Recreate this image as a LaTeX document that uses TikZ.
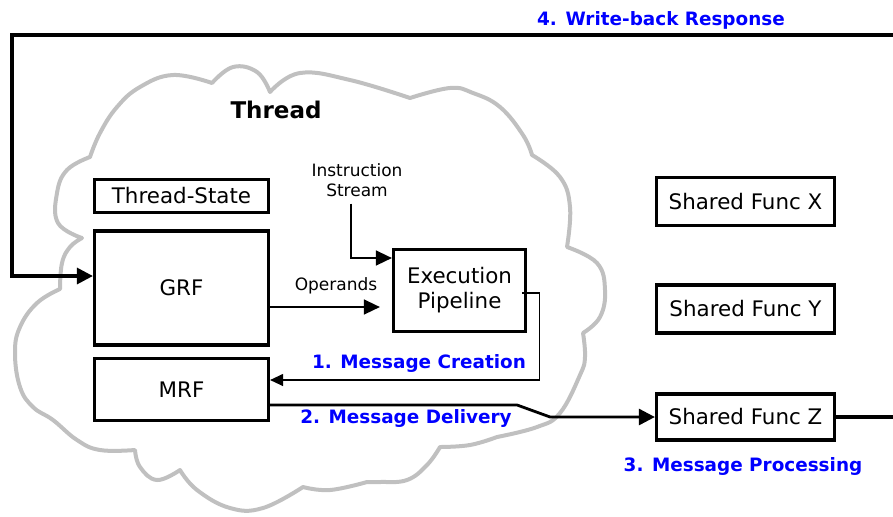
\documentclass[tikz,border=0pt]{standalone}
\usepackage{fontspec}
\setmainfont{DejaVu Sans}
\usepackage{xcolor}
\usepackage{tikz}
\usetikzlibrary{positioning,arrows.meta}

\definecolor{msgblue}{RGB}{0,0,255}
\definecolor{cloudgray}{RGB}{192,192,192}

\begin{document}
\begin{tikzpicture}[
    x=0.5pt, y=-0.5pt,
    box/.style={draw, line width=1.6pt, inner sep=0pt, align=center,
                font=\fontsize{10.7}{12.5}\selectfont},
    reg/.style  ={box, minimum width=87pt},
    sfunc/.style={box, minimum width=89pt, minimum height=24pt},
    lbl/.style  ={font=\fontsize{9.2}{11}\selectfont\bfseries, text=msgblue},
    small/.style={font=\fontsize{8.5}{10}\selectfont, align=center},
    bigarr/.style={-{Triangle[length=8pt,width=8pt]}, line width=1.6pt},
    arr/.style  ={-{Triangle[length=8pt,width=7.5pt]}, line width=0.75pt},
    cloudline/.style={draw=cloudgray, line width=2pt, line join=round}
  ]
    \useasboundingbox (0,0) rectangle (893,516);

    % thread cloud
    \draw[cloudline]
      plot[smooth, tension=0.7] coordinates {(90,157) (100,133) (117,107) (140,87) (173,75) (212,83)}
      -- plot[smooth, tension=0.7] coordinates {(212,83) (233,67) (257,72) (270,92)}
      -- plot[smooth, tension=0.7] coordinates {(270,92) (300,73) (350,80) (410,98)}
      -- plot[smooth, tension=0.7] coordinates {(410,98) (450,88) (473,93) (500,107) (523,135) (532,155)}
      -- plot[smooth, tension=0.7] coordinates {(532,155) (560,177) (570,207) (567,247)}
      -- plot[smooth, tension=0.7] coordinates {(567,247) (597,263) (605,290) (600,317) (583,333)}
      -- plot[smooth, tension=0.7] coordinates {(583,333) (585,357) (580,375) (560,413) (537,427) (497,437)}
      -- plot[smooth, tension=0.7] coordinates {(497,437) (470,445) (440,447)}
      -- plot[smooth, tension=0.7] coordinates {(440,447) (427,465) (407,480) (380,482) (367,482)}
      -- plot[smooth, tension=0.7] coordinates {(367,482) (330,490) (303,487)}
      -- plot[smooth, tension=0.7] coordinates {(303,487) (263,508) (230,508) (197,490) (180,470)}
      -- plot[smooth, tension=0.7] coordinates {(180,470) (157,480) (140,467) (135,450)}
      -- plot[smooth, tension=0.7] coordinates {(135,450) (100,450) (77,440) (53,420) (33,407) (20,387) (15,353) (20,327) (37,303) (60,289)}
      -- plot[smooth, tension=0.7] coordinates {(60,289) (62,263) (70,247) (82,238)}
      -- plot[smooth, tension=0.7] coordinates {(82,238) (58,223) (57,193) (67,170) (90,157)} -- cycle;
    \node[font=\fontsize{11.5}{13}\selectfont\bfseries] (thread) at (276,110) {Thread};

    % register files and pipeline
    \node[reg, minimum height=16.5pt] (tstate) at (181.5,196) {Thread-State};
    \node[reg, minimum height=57pt] (grf) at (181.5,288) {GRF};
    \node[reg, minimum height=31pt] (mrf) at (181.5,389.5) {MRF};
    \node[box, minimum width=66pt, minimum height=41pt] (exec) at (459.5,290.5) {Execution\\Pipeline};

    % shared functions
    \node[sfunc] (sfx) at (745.5,201.5) {Shared Func X};
    \node[sfunc] (sfy) at (745.5,309) {Shared Func Y};
    \node[sfunc, minimum height=23pt] (sfz) at (745.5,417) {Shared Func Z};

    % inputs to the pipeline
    \node[small] (instr) at (357,180) {Instruction\\Stream};
    \draw[arr] ([xshift=-3pt]instr.south) |- ([yshift=16.25pt]exec.west);
    \draw[arr] ([yshift=-9.5pt]grf.east) -- node[small, pos=0.6, above=3pt] (opnd) {Operands}
      ([yshift=-8.25pt, xshift=-6pt]exec.west);

    % message flow
    \draw[-{Triangle[length=6.5pt,width=6pt]}, line width=0.6pt]
      ([xshift=-2.5pt, yshift=-1.25pt]exec.east) -- ++(8.5pt,0) |- ([yshift=4.75pt]mrf.east);
    \draw[bigarr, line width=1.4pt] ([yshift=-7.75pt]mrf.east) -- ++(123.5pt,0) -- ++(16.5pt,-6pt) -- (sfz.west);
    \coordinate (wbR) at (893,35);
    \coordinate (wbL) at (12,35);
    \draw[line width=1.6pt] (sfz.east) -- (sfz.east -| wbR);
    \draw[bigarr] (wbR) -- (wbL) |- ([yshift=6pt]grf.west);

    \node[lbl] (mcreate) at (419,363) {1. Message Creation};
    \node[lbl] (mdeliv) at (406,418) {2. Message Delivery};
    \node[lbl] (mproc) at (743,466) {3. Message Processing};
    \node[lbl] (wback) at (661,20) {4. Write-back Response};
\end{tikzpicture}
\end{document}
